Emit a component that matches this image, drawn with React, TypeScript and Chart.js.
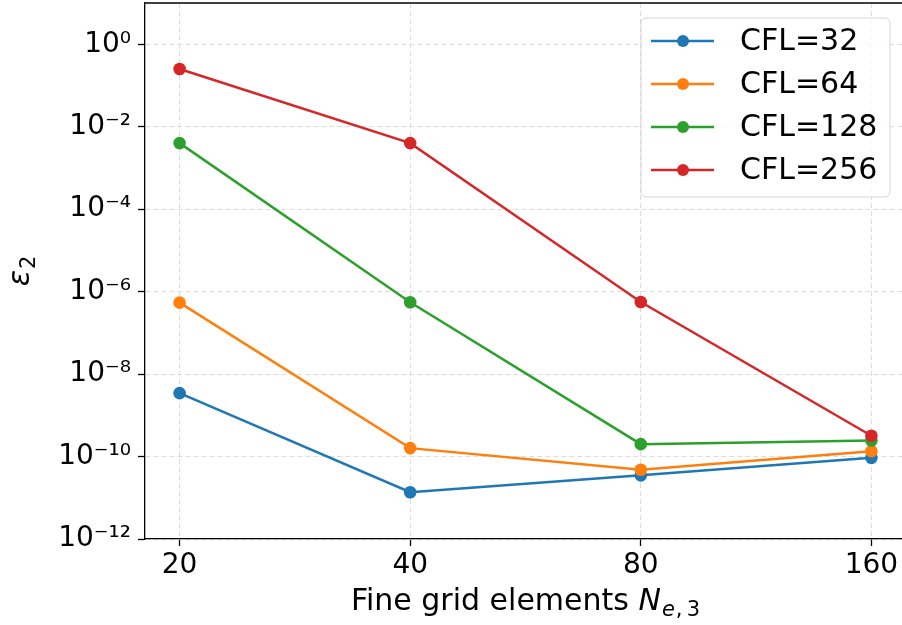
import React, { useEffect, useRef } from 'react';
import { Chart, registerables } from 'chart.js';

Chart.register(...registerables);

// ---------- data ----------
const N_ELEMENTS = [20, 40, 80, 160];
const SERIES_LABELS = ['CFL=32', 'CFL=64', 'CFL=128', 'CFL=256'];
const CFL32 = [3.45e-9, 1.36e-11, 3.5e-11, 9.3e-11];
const CFL64 = [5.4e-7, 1.6e-10, 4.8e-11, 1.35e-10];
const CFL128 = [4.0e-3, 5.5e-7, 2.0e-10, 2.45e-10];
const CFL256 = [0.25, 4.0e-3, 5.6e-7, 3.2e-10];
const Y_TICK_VALUES = [1, 1e-2, 1e-4, 1e-6, 1e-8, 1e-10, 1e-12];
const X_TITLE = 'Fine grid elements ';
const X_TITLE_VAR = 'N';
const X_TITLE_SUB_ITALIC = 'e';
const X_TITLE_SUB_ROMAN = ',\u20093';
const Y_TITLE_VAR = 'ε';
const Y_TITLE_SUB = '2';

// ---------- style ----------
const SERIES = [CFL32, CFL64, CFL128, CFL256];
const COLORS = ['#1f77b4', '#ff7f0e', '#2ca02c', '#d62728'];
const FAMILY = "'DejaVu Sans', sans-serif";
const FS = 28;
const TITLE_FS = 30;
const LEGEND_FS = 30;
const SUBFS = 21;
const GRID_COLOR = '#dddddd';

const SUP_DIGITS = '⁰¹²³⁴⁵⁶⁷⁸⁹';
function toSup(n: number): string {
  return String(n)
    .split('')
    .map((c) => (c === '-' ? '⁻' : SUP_DIGITS[Number(c)]))
    .join('');
}

const framePlugin = {
  id: 'frame',
  afterDraw(chart: any) {
    const { ctx, chartArea } = chart;
    ctx.save();
    ctx.strokeStyle = '#000';
    ctx.lineWidth = 1.3;
    ctx.beginPath();
    ctx.moveTo(chartArea.left, chartArea.top);
    ctx.lineTo(chartArea.right, chartArea.top);
    ctx.lineTo(chartArea.right, chartArea.bottom);
    ctx.stroke();
    ctx.restore();
  },
};

const titlesPlugin = {
  id: 'titles',
  afterDraw(chart: any) {
    const { ctx, chartArea } = chart;
    ctx.save();
    ctx.fillStyle = '#000';
    ctx.textBaseline = 'alphabetic';
    ctx.textAlign = 'left';
    // x title
    const fMain = `${TITLE_FS}px ${FAMILY}`;
    const fIt = `italic ${TITLE_FS}px ${FAMILY}`;
    const fSubIt = `italic ${SUBFS}px ${FAMILY}`;
    const fSub = `${SUBFS}px ${FAMILY}`;
    ctx.font = fMain;
    const w1 = ctx.measureText(X_TITLE).width;
    ctx.font = fIt;
    const w2 = ctx.measureText(X_TITLE_VAR).width;
    ctx.font = fSubIt;
    const w3 = ctx.measureText(X_TITLE_SUB_ITALIC).width;
    ctx.font = fSub;
    const w4 = ctx.measureText(X_TITLE_SUB_ROMAN).width;
    const total = w1 + w2 + w3 + w4 + 2;
    let x = (chartArea.left + chartArea.right) / 2 - total / 2;
    const base = 610;
    ctx.font = fMain;
    ctx.fillText(X_TITLE, x, base);
    x += w1;
    ctx.font = fIt;
    ctx.fillText(X_TITLE_VAR, x, base);
    x += w2 + 1;
    ctx.font = fSubIt;
    ctx.fillText(X_TITLE_SUB_ITALIC, x, base + 6);
    x += w3 + 1;
    ctx.font = fSub;
    ctx.fillText(X_TITLE_SUB_ROMAN, x, base + 6);

    // y title
    ctx.translate(29, (chartArea.top + chartArea.bottom) / 2);
    ctx.rotate(-Math.PI / 2);
    ctx.font = fIt;
    const e1 = ctx.measureText(Y_TITLE_VAR).width;
    ctx.font = fSub;
    const e2 = ctx.measureText(Y_TITLE_SUB).width;
    const tot = e1 + e2 + 1;
    ctx.font = fIt;
    ctx.fillText(Y_TITLE_VAR, -tot / 2, 0);
    ctx.font = fSub;
    ctx.fillText(Y_TITLE_SUB, -tot / 2 + e1 + 1, 6);
    ctx.restore();
  },
};

const legendPlugin = {
  id: 'mplLegend',
  afterDraw(chart: any) {
    const { ctx, chartArea } = chart;
    const w = 249;
    const h = 179;
    const x0 = chartArea.right - 16 - w;
    const y0 = chartArea.top + 15;
    ctx.save();
    ctx.beginPath();
    const r = 5;
    ctx.moveTo(x0 + r, y0);
    ctx.lineTo(x0 + w - r, y0);
    ctx.arcTo(x0 + w, y0, x0 + w, y0 + r, r);
    ctx.lineTo(x0 + w, y0 + h - r);
    ctx.arcTo(x0 + w, y0 + h, x0 + w - r, y0 + h, r);
    ctx.lineTo(x0 + r, y0 + h);
    ctx.arcTo(x0, y0 + h, x0, y0 + h - r, r);
    ctx.lineTo(x0, y0 + r);
    ctx.arcTo(x0, y0, x0 + r, y0, r);
    ctx.closePath();
    ctx.fillStyle = 'rgba(255,255,255,0.8)';
    ctx.fill();
    ctx.strokeStyle = '#d6d6d6';
    ctx.lineWidth = 1;
    ctx.stroke();
    chart.data.datasets.forEach((ds: any, i: number) => {
      const cy = y0 + 23 + i * 43;
      ctx.strokeStyle = ds.borderColor;
      ctx.lineWidth = 2.5;
      ctx.beginPath();
      ctx.moveTo(x0 + 10, cy);
      ctx.lineTo(x0 + 73, cy);
      ctx.stroke();
      ctx.fillStyle = ds.borderColor;
      ctx.beginPath();
      ctx.arc(x0 + 42, cy, 6, 0, Math.PI * 2);
      ctx.fill();
      ctx.fillStyle = '#000';
      ctx.font = `${LEGEND_FS}px ${FAMILY}`;
      ctx.textBaseline = 'middle';
      ctx.textAlign = 'left';
      ctx.fillText(ds.label, x0 + 99, cy + 1);
    });
    ctx.restore();
  },
};

export default function App() {
  const ref = useRef<HTMLCanvasElement | null>(null);
  useEffect(() => {
    if (!ref.current) return;
    const chart = new Chart(ref.current, {
      type: 'line',
      data: {
        datasets: SERIES.map((vals, i) => ({
          label: SERIES_LABELS[i],
          data: N_ELEMENTS.map((n, j) => ({ x: n, y: vals[j] })),
          borderColor: COLORS[i],
          backgroundColor: COLORS[i],
          pointBackgroundColor: COLORS[i],
          pointBorderColor: COLORS[i],
          pointBorderWidth: 0,
          pointRadius: 6.3,
          borderWidth: 2.5,
          tension: 0,
          fill: false,
          order: SERIES.length - 1 - i,
        })),
      },
      options: {
        responsive: false,
        animation: false,
        devicePixelRatio: 1,
        layout: { autoPadding: false, padding: { top: 3, right: 1, left: 0, bottom: 0 } },
        plugins: { legend: { display: false }, tooltip: { enabled: false } },
        scales: {
          x: {
            type: 'logarithmic',
            min: N_ELEMENTS[0] / Math.pow(2, 0.15),
            max: N_ELEMENTS[N_ELEMENTS.length - 1] * Math.pow(2, 0.15),
            afterBuildTicks: (s: any) => {
              s.ticks = N_ELEMENTS.map((v) => ({ value: v }));
            },
            afterFit: (s: any) => {
              s.height = 86;
              s.paddingLeft = 0;
              s.paddingRight = 0;
            },
            ticks: {
              callback: (v: any) => String(v),
              font: { family: FAMILY, size: FS, lineHeight: 1 },
              color: '#000',
              padding: 6,
              maxRotation: 0,
              autoSkip: false,
            },
            grid: {
              color: GRID_COLOR,
              lineWidth: 1,
              tickLength: 7,
              tickColor: '#000',
              tickWidth: 1.3,
            },
            border: { color: '#000', width: 1.3, dash: [5, 3] },
          },
          y: {
            type: 'logarithmic',
            min: 1e-12,
            max: 10,
            afterBuildTicks: (s: any) => {
              s.ticks = Y_TICK_VALUES.map((v) => ({ value: v }));
            },
            afterFit: (s: any) => {
              s.width = 145;
              s.paddingTop = 0;
              s.paddingBottom = 0;
            },
            ticks: {
              callback: (v: any) => '10' + toSup(Math.round(Math.log10(Number(v)))),
              font: { family: FAMILY, size: FS, lineHeight: 1 },
              color: '#000',
              padding: 7,
              autoSkip: false,
            },
            grid: {
              color: GRID_COLOR,
              lineWidth: 1,
              tickLength: 7,
              tickColor: '#000',
              tickWidth: 1.3,
            },
            border: { color: '#000', width: 1.3, dash: [5, 3] },
          },
        },
      } as any,
      plugins: [framePlugin, titlesPlugin, legendPlugin],
    });
    return () => chart.destroy();
  }, []);

  return (
    <div
      style={{
        position: 'fixed',
        left: 0,
        top: 0,
        width: 902,
        height: 625,
        overflow: 'hidden',
        background: '#fff',
      }}
    >
      <canvas ref={ref} width={907} height={625} style={{ display: 'block' }} />
    </div>
  );
}
